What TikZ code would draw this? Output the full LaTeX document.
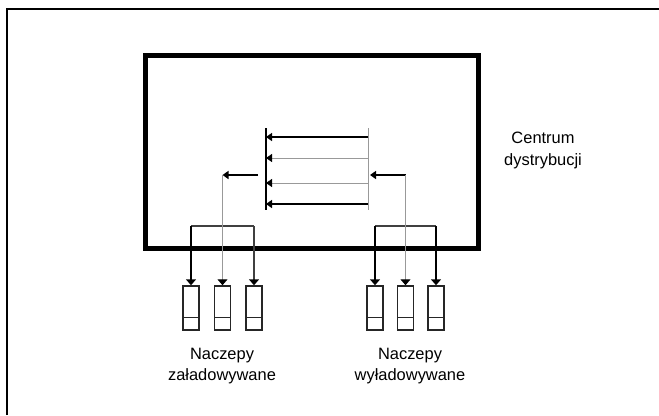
\documentclass[tikz,border=0pt]{standalone}
\usepackage{fontspec}
\setmainfont{Liberation Sans}
\usetikzlibrary{positioning,arrows.meta}

\begin{document}
\begin{tikzpicture}[
  x=1bp, y=-1bp,
  font=\fontsize{16.5}{22}\selectfont,
  ramka/.style={draw, line width=1.5bp},
  centrum/.style={draw, rectangle, line width=5bp, minimum width=333bp, minimum height=193bp, inner sep=0pt},
  naczepa/.style={draw=black!85, rectangle, line width=1.5bp, minimum width=16bp, minimum height=44bp, inner sep=0pt,
    path picture={\draw[line width=1bp] ([yshift=13bp]path picture bounding box.south west) -- ([yshift=13bp]path picture bounding box.south east);}},
  opis/.style={align=center, inner sep=0pt},
  grot/.style={-{Triangle[length=6bp, width=8bp, color=black]}},
  grotN/.style={-{Triangle[length=6bp, width=10bp, color=black]}},
  gruba/.style={line width=2.8bp, black},
  srednia/.style={line width=1.5bp, black!75},
  czarna/.style={line width=1.6bp, black},
  szara/.style={line width=1bp, black!40},
  node distance=14bp
]
\useasboundingbox (0,0) rectangle (659,415);
% ramka zewnetrzna
\draw[ramka] (7,415) -- (7,9) -- (659,9);

% centrum dystrybucji
\node[centrum] (cd) at (312,152) {};
\node[opis] (cdopis) at (543,150) {Centrum\\dystrybucji};

% naczepy
\node[naczepa] (t1) at (191,308) {};
\node[naczepa, right=of t1] (t2) {};
\node[naczepa, right=of t2] (t3) {};
\node[naczepa] (t4) at (375,308) {};
\node[naczepa, right=13bp of t4] (t5) {};
\node[naczepa, right=13bp of t5] (t6) {};
\node[opis] (zal) at (222,366) {Naczepy\\załadowywane};
\node[opis] (wyl) at (410,366) {Naczepy\\wyładowywane};

% punkty pomocnicze
\coordinate (b1) at (266,128);
\coordinate (b2) at (266,210);
\coordinate (c1) at (368,128);
\coordinate (c2) at (368,210);
\coordinate (gL) at (222,226);
\coordinate (gR) at (404,226);
\coordinate (lS) at (258,175);
\coordinate (lA) at (t2.north |- lS);
\coordinate (rK) at (370,175);
\coordinate (rA) at (t5.north |- rK);

% przeladunek wewnatrz
\draw[line width=2bp] (b1) -- (b2);
\draw[szara] (c1) -- (c2);
\foreach \y/\s in {137/gruba, 158/szara, 183/szara, 204/gruba}
  \draw[\s, grot] (c1 |- 0,\y) -- (b1 |- 0,\y);
\draw[czarna, grot] (lS) -- (lA);
\draw[czarna, grot] (rA) -- (rK);

% lewa grupa
\draw[srednia] (t1.north |- gL) -- (t3.north |- gL);
\draw[gruba, grotN] (t1.north |- gL) -- (t1);
\draw[szara, grotN] (lA) -- (t2);
\draw[srednia, grotN] (t3.north |- gL) -- (t3);

% prawa grupa
\draw[srednia] (t4.north |- gR) -- (t6.north |- gR);
\draw[czarna, grotN] (t4.north |- gR) -- (t4);
\draw[szara, grotN] (rA) -- (t5);
\draw[gruba, grotN] (t6.north |- gR) -- (t6);
\end{tikzpicture}
\end{document}
